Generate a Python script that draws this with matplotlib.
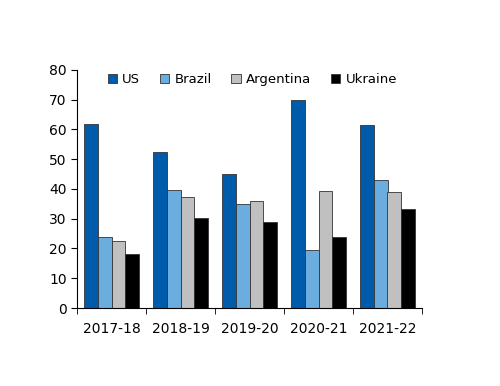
import numpy as np
import matplotlib.pyplot as plt

years = ['2017-18', '2018-19', '2019-20', '2020-21', '2021-22']
us = [61.8, 52.4, 44.9, 69.8, 61.4]
brazil = [24.0, 39.6, 35.1, 19.5, 42.9]
argentina = [22.4, 37.2, 36.1, 39.4, 39.0]
ukraine = [18.0, 30.1, 28.9, 23.8, 33.4]

series = [('US', us, '#005bab'), ('Brazil', brazil, '#6cade0'),
          ('Argentina', argentina, '#c0c0c0'), ('Ukraine', ukraine, '#000000')]

fig = plt.figure(figsize=(5, 3.86), dpi=100)
ax = fig.add_axes([0.154, 0.202, 0.69, 0.617])

x = np.arange(len(years))
w = 0.2
for i, (name, vals, col) in enumerate(series):
    ax.bar(x + (i - 1.5) * w, vals, w, color=col, edgecolor='#333333',
           linewidth=0.6, label=name)

ax.set_xlim(-0.5, len(years) - 0.5)
ax.set_ylim(0, 80)
ax.set_yticks(range(0, 81, 10))
ax.set_xticks(x)
ax.set_xticklabels(years)
ax.set_xticks(np.arange(-0.5, len(years)), minor=True)
ax.tick_params(axis='x', which='major', length=0, pad=10, labelsize=10)
ax.tick_params(axis='x', which='minor', length=4)
ax.tick_params(axis='y', labelsize=10, length=4)
for s in ['top', 'right']:
    ax.spines[s].set_visible(False)

ax.legend(loc='upper center', bbox_to_anchor=(0.508, 1.035), ncol=4, frameon=False,
          fontsize=9.5, handlelength=0.7, handleheight=0.7, handletextpad=0.4,
          columnspacing=1.5)

fig.savefig('out.png')
